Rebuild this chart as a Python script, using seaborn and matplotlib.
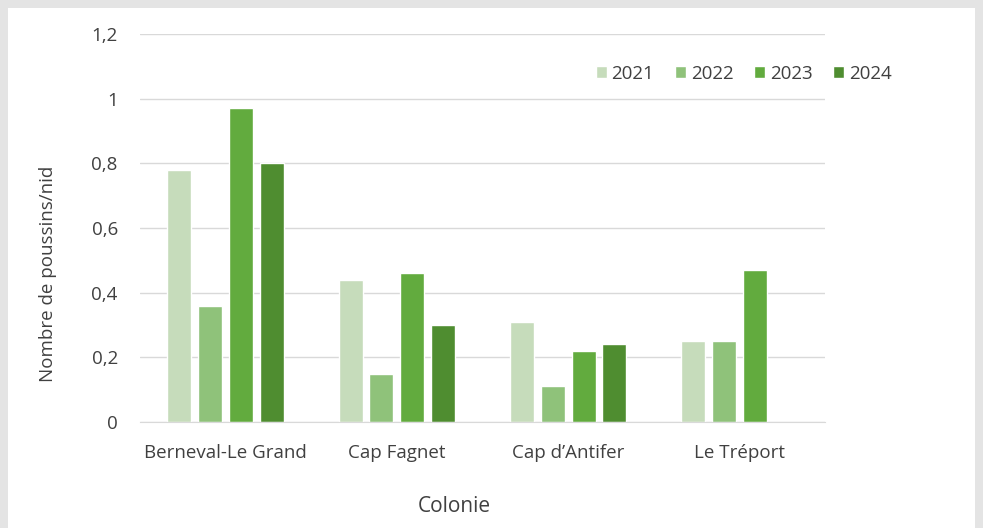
import pandas as pd
import matplotlib
matplotlib.use("Agg")
import matplotlib.pyplot as plt
import seaborn as sns
from matplotlib.patches import Rectangle

colonies = ["Berneval-Le Grand", "Cap Fagnet", "Cap d\u2019Antifer", "Le Tr\u00e9port"]
years = ["2021", "2022", "2023", "2024"]
v2021 = [0.78, 0.44, 0.31, 0.25]
v2022 = [0.36, 0.15, 0.11, 0.25]
v2023 = [0.97, 0.46, 0.22, 0.47]
v2024 = [0.80, 0.30, 0.24, None]
yticks = [0, 0.2, 0.4, 0.6, 0.8, 1.0, 1.2]
ytick_labels = ["0", "0,2", "0,4", "0,6", "0,8", "1", "1,2"]
colors = ["#c6dcbb", "#8fc27a", "#62ab3e", "#4f8d30"]

rows = []
for year, vals in zip(years, [v2021, v2022, v2023, v2024]):
    for c, v in zip(colonies, vals):
        rows.append({"Colonie": c, "Année": year, "val": v})
df = pd.DataFrame(rows)

sns.set_style("white")
plt.rcParams["font.family"] = ["Open Sans", "DejaVu Sans"]

fig = plt.figure(figsize=(9.83, 5.28), dpi=100)
fig.patch.set_facecolor("#e4e4e4")
# white chart area inside the grey frame
fig.patches.append(Rectangle((8 / 983, 0), 967 / 983, 1 - 8 / 528,
                             transform=fig.transFigure, facecolor="white",
                             edgecolor="none", zorder=-5))

ax = fig.add_axes([140 / 983, 1 - 422 / 528, 685 / 983, 388 / 528])
ax.set_zorder(2)
ax.set_facecolor("none")
sns.barplot(data=df, x="Colonie", y="val", hue="Année", hue_order=years,
            palette=colors, width=0.72, gap=0.22, ax=ax, errorbar=None,
            saturation=1)

ax.set_ylim(0, 1.2)
ax.set_xlim(-0.5, 3.5)
ax.set_yticks(yticks)
ax.set_yticklabels(ytick_labels)
ax.yaxis.grid(True, color="#d9d9d9", linewidth=1)
ax.set_axisbelow(True)
for s in ["top", "right", "left"]:
    ax.spines[s].set_visible(False)
ax.spines["bottom"].set_color("#d9d9d9")
ax.tick_params(axis="both", length=0, labelsize=13.5, colors="#404040")
ax.tick_params(axis="y", pad=16)
ax.tick_params(axis="x", pad=16)
ax.set_xlabel("")
ax.set_ylabel("")

fig.text(454 / 983, 1 - 507 / 528, "Colonie", ha="center", va="center",
         fontsize=15, color="#404040")
fig.text(48 / 983, 1 - 274 / 528, "Nombre de poussins/nid", ha="center",
         va="center", rotation=90, fontsize=13.5, color="#404040")

ax.legend(loc="upper left", bbox_to_anchor=(0.665, 0.92), ncol=4,
          frameon=False, fontsize=13.5, handlelength=0.6, handleheight=0.6,
          handletextpad=0.25, columnspacing=1.1, borderpad=0,
          borderaxespad=0, labelcolor="#404040")

fig.savefig("out.png", dpi=100, facecolor=fig.get_facecolor())
